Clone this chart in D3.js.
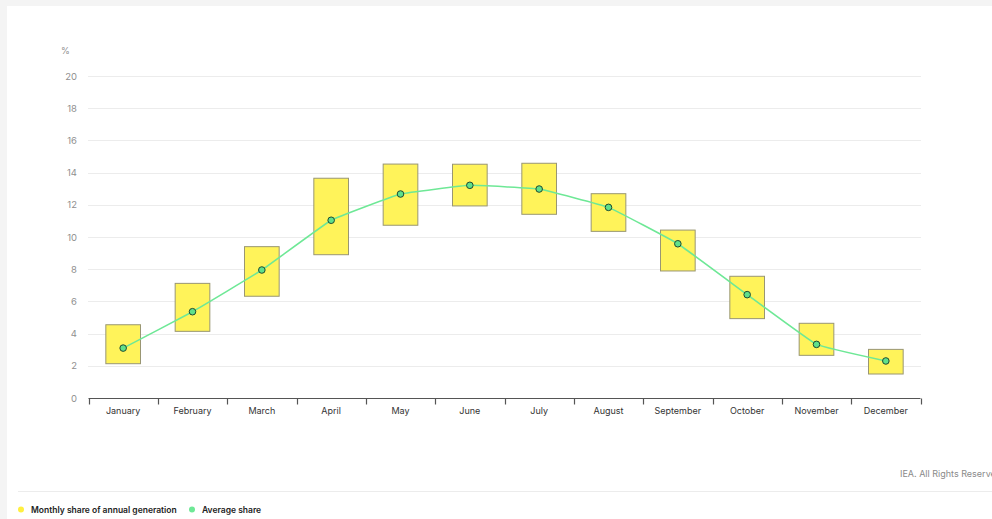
<!DOCTYPE html>
<html><head><meta charset="utf-8">
<script src="https://cdn.jsdelivr.net/npm/d3@7"></script>
<style>
html,body{margin:0;padding:0;background:#f4f4f4;}
svg{display:block;font-family:Inter, "Open Sans", sans-serif;}
</style></head>
<body>
<svg id="c" width="992" height="519"></svg>
<script>
const months = ["January","February","March","April","May","June","July","August","September","October","November","December"];
const boxLow  = [2.13, 4.14, 6.32, 8.9, 10.73, 11.93, 11.41, 10.35, 7.89, 4.93, 2.65, 1.49];
const boxHigh = [4.55, 7.12, 9.4, 13.65, 14.53, 14.52, 14.58, 12.69, 10.43, 7.56, 4.64, 3.02];
const avgShare = [3.1, 5.36, 7.95, 11.04, 12.67, 13.21, 12.98, 11.84, 9.58, 6.42, 3.33, 2.3];
const yTicks = [0,2,4,6,8,10,12,14,16,18,20];
const legendLabels = ["Monthly share of annual generation","Average share"];

const svg = d3.select("#c");
svg.append("rect").attr("x",7).attr("y",6).attr("width",985).attr("height",513).attr("fill","#fff");

const x = d3.scaleBand().domain(months).range([88.5,920.5]).paddingInner(0.5).paddingOuter(0.25);
const xb = d3.scaleBand().domain(months).range([88.5,920.5]);
const y = d3.scaleLinear().domain([0,20]).range([398,76]);

// gridlines
svg.append("g").selectAll("line").data(yTicks.filter(d=>d>0)).join("line")
  .attr("x1",88).attr("x2",921).attr("y1",d=>Math.round(y(d))+0.5).attr("y2",d=>Math.round(y(d))+0.5)
  .attr("stroke","#ececec").attr("stroke-width",1);

// y labels
svg.append("g").selectAll("text").data(yTicks).join("text")
  .attr("x",77).attr("y",d=>y(d)+3.5).attr("text-anchor","end")
  .attr("font-size",9.5).attr("fill","#8f8f8f").text(d=>d);
svg.append("text").attr("x",61).attr("y",54).attr("font-size",9).attr("fill","#8f8f8f").text("%");

// x axis
const axis = svg.append("g").attr("transform","translate(0,398.5)");
axis.append("line").attr("x1",88.5).attr("x2",920.5).attr("stroke","#555").attr("stroke-width",1.2);
const bounds = months.map(m=>xb(m)).concat([920.5]);
axis.selectAll("line.t").data(bounds).join("line").attr("class","t")
  .attr("x1",d=>Math.round(d)+0.5).attr("x2",d=>Math.round(d)+0.5).attr("y1",0).attr("y2",6)
  .attr("stroke","#555").attr("stroke-width",1.2);
axis.selectAll("text").data(months).join("text")
  .attr("x",d=>xb(d)+xb.bandwidth()/2).attr("y",15.5).attr("text-anchor","middle")
  .attr("font-size",9).attr("fill","#333").text(d=>d);

// boxes
svg.append("g").selectAll("rect").data(months).join("rect")
  .attr("x",d=>x(d)).attr("width",x.bandwidth())
  .attr("y",(d,i)=>y(boxHigh[i])).attr("height",(d,i)=>y(boxLow[i])-y(boxHigh[i]))
  .attr("fill","#fff35a").attr("stroke","#999673").attr("stroke-width",1);

// line
const cx = d=>xb(d)+xb.bandwidth()/2;
const line = d3.line().x(d=>cx(d[0])).y(d=>y(d[1])).curve(d3.curveCardinal.tension(0.75));
svg.append("path").datum(months.map((m,i)=>[m,avgShare[i]]))
  .attr("d",line).attr("fill","none").attr("stroke","#6ee896").attr("stroke-width",1.6);
svg.append("g").selectAll("circle").data(months).join("circle")
  .attr("cx",d=>cx(d)).attr("cy",(d,i)=>y(avgShare[i])).attr("r",3.3)
  .attr("fill","#5fe08a").attr("stroke","#1f4a30").attr("stroke-width",1);

// footer
svg.append("text").attr("x",900).attr("y",477).attr("font-size",9).attr("fill","#8a8a8a").text("IEA. All Rights Reserved");
svg.append("line").attr("x1",18).attr("x2",992).attr("y1",491.5).attr("y2",491.5).attr("stroke","#ececec");

// legend
const lg = svg.append("g");
const lx = [21,192];
const lc = ["#ffef40","#6ee896"];
legendLabels.forEach((t,i)=>{
  lg.append("circle").attr("cx",lx[i]).attr("cy",509.5).attr("r",3).attr("fill",lc[i]);
  lg.append("text").attr("x",lx[i]+10).attr("y",512.5).attr("font-size",8.5).attr("font-weight",600).attr("fill","#222").text(t);
});
</script>
</body></html>
